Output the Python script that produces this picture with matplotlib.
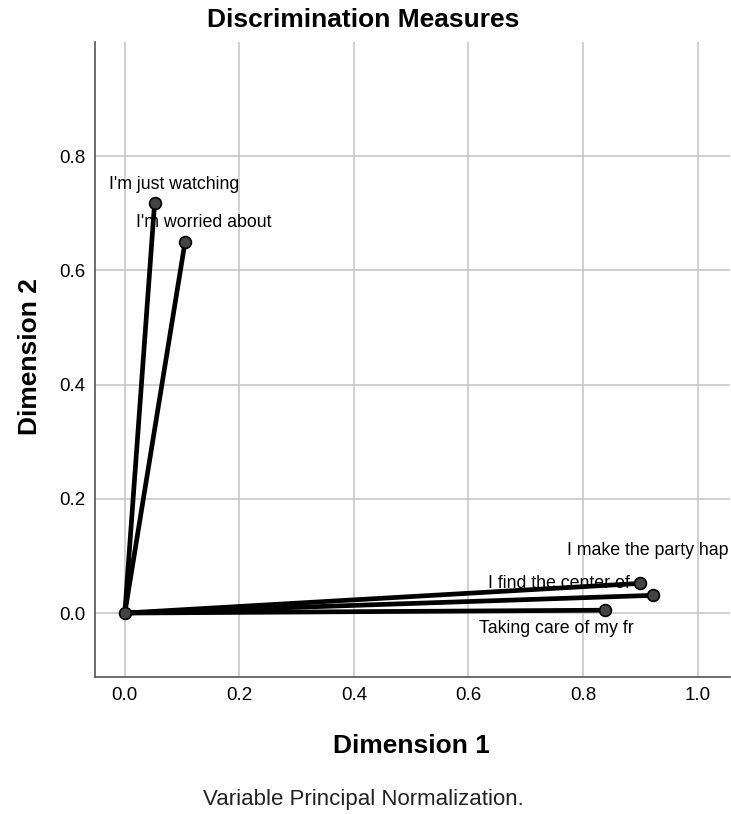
import matplotlib
matplotlib.use('Agg')
import matplotlib.pyplot as plt

plt.rcParams['font.family'] = ['Liberation Sans', 'DejaVu Sans']

labels = ["I'm just watching", "I'm worried about", "I make the party hap",
          "I find the center of", "Taking care of my fr"]
dim1 = [0.052, 0.105, 0.900, 0.922, 0.838]
dim2 = [0.718, 0.649, 0.052, 0.031, 0.005]
# label offsets in pixels (dx, dy)
offsets = [(20, 19), (19, 20), (7, 33), (-94, 12), (-48, -18)]

fig = plt.figure(figsize=(7.31, 8.14), dpi=100)
ax = fig.add_axes([0.130, 0.1683, 0.869, 0.780])

for x, y in zip(dim1, dim2):
    ax.plot([0, x], [0, y], color='black', lw=3.4, solid_capstyle='round', zorder=3)
ax.plot([0] + dim1, [0] + dim2, 'o', ms=8.5, mfc='#444444', mec='black', mew=1.2, zorder=4)

for x, y, t, (dx, dy) in zip(dim1, dim2, labels, offsets):
    ax.annotate(t, (x, y), xytext=(dx, dy), textcoords='offset pixels',
                ha='center', va='center', fontsize=12.8, color='black',
                annotation_clip=False, zorder=5)

ax.set_xlim(-0.052, 1.057)
ax.set_ylim(-0.112, 1.0)
ax.set_xticks([0.0, 0.2, 0.4, 0.6, 0.8, 1.0])
ax.set_yticks([0.0, 0.2, 0.4, 0.6, 0.8])
ax.grid(True, color='#c8c8c8', lw=1.2)
ax.set_axisbelow(True)
for s in ['top', 'right']:
    ax.spines[s].set_visible(False)
for s in ['left', 'bottom']:
    ax.spines[s].set_color('#555555')
    ax.spines[s].set_linewidth(1.2)
ax.tick_params(length=0, labelsize=13.5, pad=7)

fig.text(0.563, 0.0835, 'Dimension 1', ha='center', va='center',
         fontsize=19, fontweight='bold')
fig.text(0.041, 0.5614, 'Dimension 2', ha='center', va='center', rotation=90,
         fontsize=19, fontweight='bold')
fig.text(0.497, 0.9754, 'Discrimination Measures', ha='center', va='center',
         fontsize=19, fontweight='bold')
fig.text(0.497, 0.0172, 'Variable Principal Normalization.', ha='center',
         va='center', fontsize=16, color='#222222')

fig.savefig('out.png', dpi=100)
